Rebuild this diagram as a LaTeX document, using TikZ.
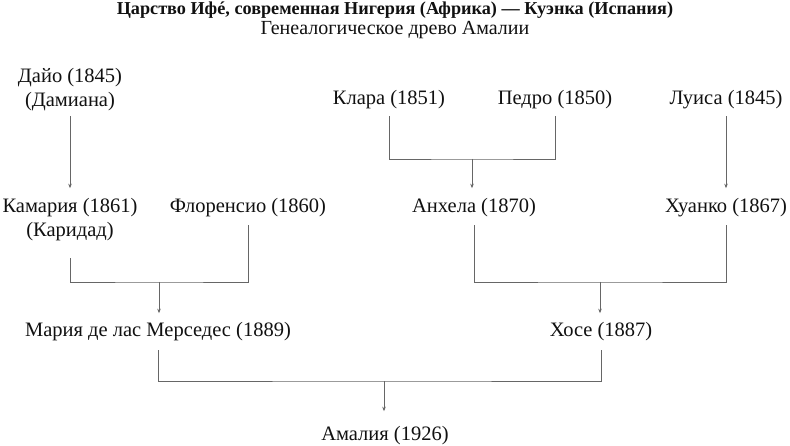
\documentclass[tikz,border=0pt]{standalone}
\usepackage{fontspec}
\setmainfont{Liberation Serif}
\usetikzlibrary{arrows.meta}
\definecolor{linegray}{HTML}{666666}
\definecolor{textblack}{HTML}{111111}
\newcommand{\pfont}{\fontsize{20.5}{24}\selectfont}
\newcommand{\twol}[2]{\begin{tabular}[t]{@{}c@{}}#1\\#2\end{tabular}}
\newcommand{\onel}[1]{\begin{tabular}[t]{@{}c@{}}#1\end{tabular}}
\tikzset{
  person/.style={inner sep=0pt, outer sep=0pt, anchor=base, font=\pfont, text=textblack},
  link/.style={draw=linegray, line width=0.8pt},
  arr/.style={link, -{Stealth[length=4.5pt,width=3.5pt]}}
}
\begin{document}
\begin{tikzpicture}[x=1pt,y=-1pt]
\renewcommand{\arraystretch}{1}
\useasboundingbox[fill=white] (0,0) rectangle (790,446);
% titles
\node[inner sep=0pt, anchor=base, font=\fontsize{18.2}{20}\selectfont\bfseries, text=textblack] (title) at (395,15) {Царство Ифé, современная Нигерия (Африка) — Куэнка (Испания)};
\node[inner sep=0pt, anchor=base, font=\fontsize{20}{22}\selectfont, text=textblack] (subtitle) at (395,35) {Генеалогическое древо Амалии};
% persons
\node[person] (daio)  at (70,83)  {\twol{Дайо (1845)}{(Дамиана)}};
\node[person] (klara) at (389,105) {\onel{Клара (1851)}};
\node[person] (pedro) at (555,105) {\onel{Педро (1850)}};
\node[person] (luisa) at (726,105) {\onel{Луиса (1845)}};
\node[person] (kam)   at (70,213) {\twol{Камария (1861)}{(Каридад)}};
\node[person] (flor)  at (248,213) {\onel{Флоренсио (1860)}};
\node[person] (anh)   at (474,213) {\onel{Анхела (1870)}};
\node[person] (juan)  at (726,213) {\onel{Хуанко (1867)}};
\node[person] (maria) at (158,337) {\onel{Мария де лас Мерседес (1889)}};
\node[person] (jose)  at (601,337) {\onel{Хосе (1887)}};
\node[person] (amal)  at (385,440) {\onel{Амалия (1926)}};
% junctions
\coordinate (j1) at (472,159);
\coordinate (j2) at (159,282);
\coordinate (j3) at (600,282);
\coordinate (j4) at (384,381);
% connectors
\draw[arr, shorten >=8pt] ([yshift=-2pt]daio.south) -- (kam.north);
\draw[arr, shorten >=8pt] ([yshift=-4pt]luisa.south) -- (juan.north);
\draw[link] ([yshift=-4pt]klara.south) |- (j1) -| ([yshift=-4pt]pedro.south);
\draw[arr, shorten >=8pt] (j1) -- (j1 |- anh.north);
\draw[link] ([yshift=-14pt]kam.south) |- (j2) -| ([yshift=-5pt]flor.south);
\draw[arr, shorten >=7pt] (j2) -- (j2 |- maria.north);
\draw[link] ([yshift=-5pt]anh.south) |- (j3) -| ([yshift=-5pt]juan.south);
\draw[arr, shorten >=7pt] (j3) -- (j3 |- jose.north);
\draw[link] ([yshift=-6pt]maria.south) |- (j4) -| ([yshift=-6pt]jose.south);
\draw[arr, shorten >=12pt] (j4) -- (j4 |- amal.north);
\end{tikzpicture}
\end{document}
